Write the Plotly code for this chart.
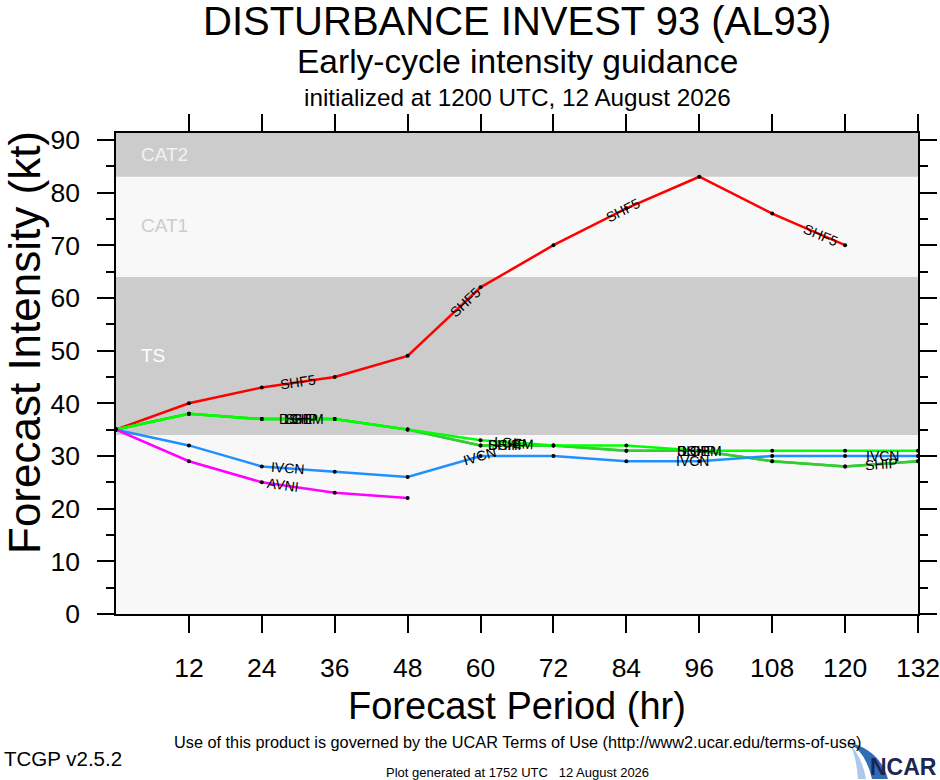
#!/usr/bin/env python3
"""
Early-cycle intensity guidance plot (TCGP style) rebuilt with Plotly.
"""

import numpy as np
import plotly.graph_objects as go

# forecast hours
hours = [0, 12, 24, 36, 48, 60, 72, 84, 96, 108, 120, 132]

# model intensities (kt)
shf5 = [35, 40, 43, 45, 49, 62, 70, 77, 83, 76, 70]
dshp = [35, 38, 37, 37, 35, 32, 32, 31, 31, 29, 28, 29]
ship = [35, 38, 37, 37, 35, 32, 32, 31, 31, 29, 28, 29]
lgem = [35, 38, 37, 37, 35, 33, 32, 32, 31, 31, 31, 31]
ivcn = [35, 32, 28, 27, 26, 30, 30, 29, 29, 30, 30, 30]
avni = [35, 29, 25, 23, 22]

# intensity bands (kt)
band_names = ['', 'TS', 'CAT1', 'CAT2']
band_edges = [0, 34, 64, 83, 92]
band_fill = ['#f8f8f8', '#cccccc', '#f8f8f8', '#cccccc']
band_text = ['', '#ffffff', '#cccccc', '#f2f2f2']

x_ticks = [12, 24, 36, 48, 60, 72, 84, 96, 108, 120, 132]
y_ticks = [0, 10, 20, 30, 40, 50, 60, 70, 80, 90]

# model name, values, colour
models = [
    ('SHF5', shf5, '#ff0000'),
    ('DSHP', dshp, '#33cc33'),
    ('SHIP', ship, '#33cc33'),
    ('LGEM', lgem, '#00ff00'),
    ('IVCN', ivcn, '#1e90ff'),
    ('AVNI', avni, '#ff00ff'),
]

# where the in-line labels sit (forecast hour along each line)
label_hours = {
    'SHF5': [30, 57.5, 83.5, 116],
    'DSHP': [30, 64.5, 95.5],
    'SHIP': [30.5, 64, 95, 126],
    'LGEM': [31, 65.5, 96.5],
    'IVCN': [28.3, 59.9, 94.9, 126.2],
    'AVNI': [27.5],
}

W, H = 940, 780
M_L, M_R, M_T, M_B = 116, 22, 133, 166
X_MAX, Y_MAX = 132, 91.3
px_x = (W - M_L - M_R) / X_MAX
px_y = (H - M_T - M_B) / Y_MAX


def paper(px, py):
    """Page pixels -> paper coordinates."""
    return ((px - M_L) / (W - M_L - M_R),
            (H - M_B - py) / (H - M_T - M_B))


fig = go.Figure()

# background bands
for lo, hi, col in zip(band_edges[:-1], band_edges[1:], band_fill):
    fig.add_shape(type='rect', xref='x', yref='y', x0=0, x1=X_MAX, y0=lo, y1=hi,
                  fillcolor=col, line_width=0, layer='below')

band_label_y = [0, 49, 73.7, 87.2]
for name, yy, col in zip(band_names, band_label_y, band_text):
    if name:
        fig.add_annotation(x=3.8, y=yy, text=name, showarrow=False, xanchor='left',
                           font=dict(size=19, color=col))

# model lines
for name, vals, col in models:
    hrs = hours[:len(vals)]
    fig.add_trace(go.Scatter(
        x=hrs, y=vals, mode='lines+markers', name=name,
        line=dict(color=col, width=2.5),
        marker=dict(color='black', size=4),
        hoverinfo='skip',
    ))

# in-line labels
for name, vals, col in models:
    hrs = hours[:len(vals)]
    for h in label_hours[name]:
        v = float(np.interp(h, hrs, vals))
        i = min(int(h // 12), len(vals) - 2)
        ang = np.degrees(np.arctan2(-(vals[i + 1] - vals[i]) * px_y, 12 * px_x))
        fig.add_annotation(x=h, y=v, text=name, showarrow=False, textangle=ang,
                           font=dict(size=14, color='black'))

# titles
titles = [
    ('DISTURBANCE INVEST 93 (AL93)', 21, 40),
    ('Early-cycle intensity guidance', 62, 33.5),
    ('initialized at 1200 UTC, 12 August 2026', 97, 24.3),
]
for txt, py, size in titles:
    fig.add_annotation(xref='paper', yref='paper', x=0.5, y=paper(0, py)[1], text=txt,
                       showarrow=False, yanchor='middle', font=dict(size=size, color='black'))

fig.add_annotation(xref='paper', yref='paper', x=0.5, y=paper(0, 706)[1],
                   text='Forecast Period (hr)', showarrow=False, yanchor='middle',
                   font=dict(size=38, color='black'))
fig.add_annotation(xref='paper', yref='paper', x=paper(24, 0)[0], y=paper(0, 343)[1],
                   text='Forecast Intensity (kt)', showarrow=False, textangle=-90,
                   xanchor='center', yanchor='middle', font=dict(size=44, color='black'))

# footer
fig.add_annotation(xref='paper', yref='paper', x=0.5, y=paper(0, 742)[1],
                   text='Use of this product is governed by the UCAR Terms of Use (http://www2.ucar.edu/terms-of-use)',
                   showarrow=False, yanchor='middle', font=dict(size=16.3, color='black'))
fig.add_annotation(xref='paper', yref='paper', x=paper(2, 0)[0], y=paper(0, 758)[1],
                   text='TCGP v2.5.2', showarrow=False, xanchor='left', yanchor='middle',
                   font=dict(size=20.5, color='black'))
fig.add_annotation(xref='paper', yref='paper', x=0.5, y=paper(0, 772)[1],
                   text='Plot generated at 1752 UTC   12 August 2026',
                   showarrow=False, yanchor='middle', font=dict(size=13, color='black'))

# NCAR logo (rough)
ax0, ay0 = paper(848, 742)
ax1, ay1 = paper(888, 779)
amx, amy = paper(880, 750)
fig.add_shape(type='path', xref='paper', yref='paper',
              path=f'M {ax0} {ay0} Q {amx} {amy} {ax1} {ay1} L {paper(872, 779)[0]} {ay1} '
                   f'Q {paper(866, 758)[0]} {paper(0, 752)[1]} {ax0} {ay0} Z',
              fillcolor='#2f6db5', line_width=0)
fig.add_shape(type='path', xref='paper', yref='paper',
              path=f'M {ax0} {ay0} Q {paper(862, 752)[0]} {paper(0, 756)[1]} {paper(866, 779)[0]} {ay1} '
                   f'L {paper(858, 779)[0]} {ay1} Q {paper(856, 760)[0]} {paper(0, 752)[1]} {ax0} {ay0} Z',
              fillcolor='#a9c8ea', line_width=0)
fig.add_annotation(xref='paper', yref='paper', x=paper(939, 0)[0], y=paper(0, 767)[1],
                   text='<b>NCAR</b>', showarrow=False, xanchor='right', yanchor='middle',
                   font=dict(size=23, color='#1b2652'))

axis_common = dict(
    showline=True, linecolor='black', linewidth=1.5, mirror='allticks',
    ticks='outside', tickcolor='black', tickwidth=1.5, ticklen=17,
    showgrid=False, zeroline=False, tickfont=dict(size=26.5, color='black'),
    ticklabelstandoff=12, automargin=False, ticklabeloverflow='allow',
)

fig.update_xaxes(range=[0, X_MAX], tickvals=x_ticks, **axis_common)
fig.update_yaxes(range=[0, Y_MAX], tickvals=y_ticks,
                 minor=dict(dtick=5, ticks='outside', ticklen=8, tickcolor='black', tickwidth=1.5),
                 **axis_common)

fig.update_layout(
    width=W, height=H,
    margin=dict(l=M_L, r=M_R, t=M_T, b=M_B, autoexpand=False),
    paper_bgcolor='white', plot_bgcolor='#f8f8f8',
    font=dict(family='Liberation Sans, Arial, sans-serif', color='black'),
    showlegend=False,
)

# drop the default body margin so the 940x780 figure fills the window
fig.write_html('out.html', config={'displayModeBar': False},
               post_script="document.body.style.margin='0';document.body.style.overflow='hidden';")
